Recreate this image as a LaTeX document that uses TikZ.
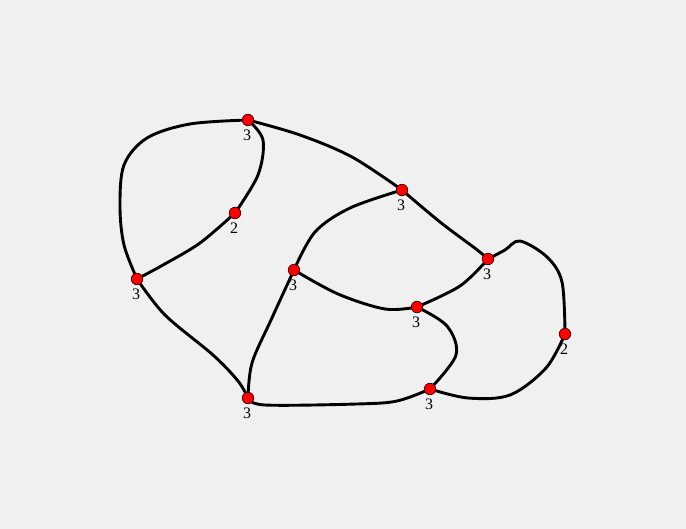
\documentclass[tikz,border=0pt]{standalone}
\usepackage{fontspec}
\setmainfont{Liberation Serif}
\begin{document}
\begin{tikzpicture}[x=1pt,y=-1pt,
  vtx/.style={circle,draw=black!80!red,fill=red,line width=0.7pt,minimum size=11.5pt,inner sep=0pt},
  lbl/.style={font=\fontsize{16}{16}\selectfont,text=black,inner sep=0pt,anchor=north},
  edge/.style={line width=2.9pt,black,line cap=round,line join=round}]
\fill[fill={rgb,255:red,240;green,240;blue,240}] (0,0) rectangle (686,529);
\useasboundingbox (0,0) rectangle (686,529);
\coordinate (A) at (248,120);
\coordinate (B) at (402,190);
\coordinate (C) at (235,213);
\coordinate (D) at (137,279);
\coordinate (E) at (294,270);
\coordinate (F) at (488,259);
\coordinate (G) at (417,307);
\coordinate (H) at (565,334);
\coordinate (I) at (248,398);
\coordinate (J) at (430,389);
\draw[edge] plot[smooth,tension=0.55] coordinates {(A) (300,135) (352,157) (402,190)};
\draw[edge] plot[smooth,tension=0.55] coordinates {(A) (263,140) (258,175) (C)};
\draw[edge] plot[smooth,tension=0.55] coordinates {(A) (190,124) (147,138) (124,165) (120,207) (124,245) (D)};
\draw[edge] plot[smooth,tension=0.55] coordinates {(C) (200,243) (163,265) (D)};
\draw[edge] plot[smooth,tension=0.55] coordinates {(D) (165,315) (213,355) (238,381) (I)};
\draw[edge] plot[smooth,tension=0.55] coordinates {(E) (315,232) (350,208) (B)};
\draw[edge] plot[smooth,tension=0.55] coordinates {(E) (338,294) (385,309) (G)};
\draw[edge] plot[smooth,tension=0.55] coordinates {(E) (271,320) (252,363) (I)};
\draw[edge] plot[smooth,tension=0.55] coordinates {(B) (440,222) (476,249) (F)};
\draw[edge] plot[smooth,tension=0.55] coordinates {(F) (460,286) (G)};
\draw[edge] plot[smooth,tension=0.55] coordinates {(F) (505,250) (520,241) (547,257) (562,282) (H)};
\draw[edge] plot[smooth,tension=0.55] coordinates {(G) (447,326) (456,355) (J)};
\draw[edge] plot[smooth,tension=0.55] coordinates {(I) (265,405) (357,404) (397,401) (J)};
\draw[edge] plot[smooth,tension=0.55] coordinates {(J) (468,398) (510,395) (546,368) (H)};
\foreach \n/\t in {A/3,B/3,C/2,D/3,E/3,F/3,G/3,H/2,I/3,J/3}{
  \node[vtx] (v\n) at (\n) {};
  \node[lbl] (l\n) at ([xshift=-1pt,yshift=-4pt]v\n.south) {\t};
}
\end{tikzpicture}
\end{document}
